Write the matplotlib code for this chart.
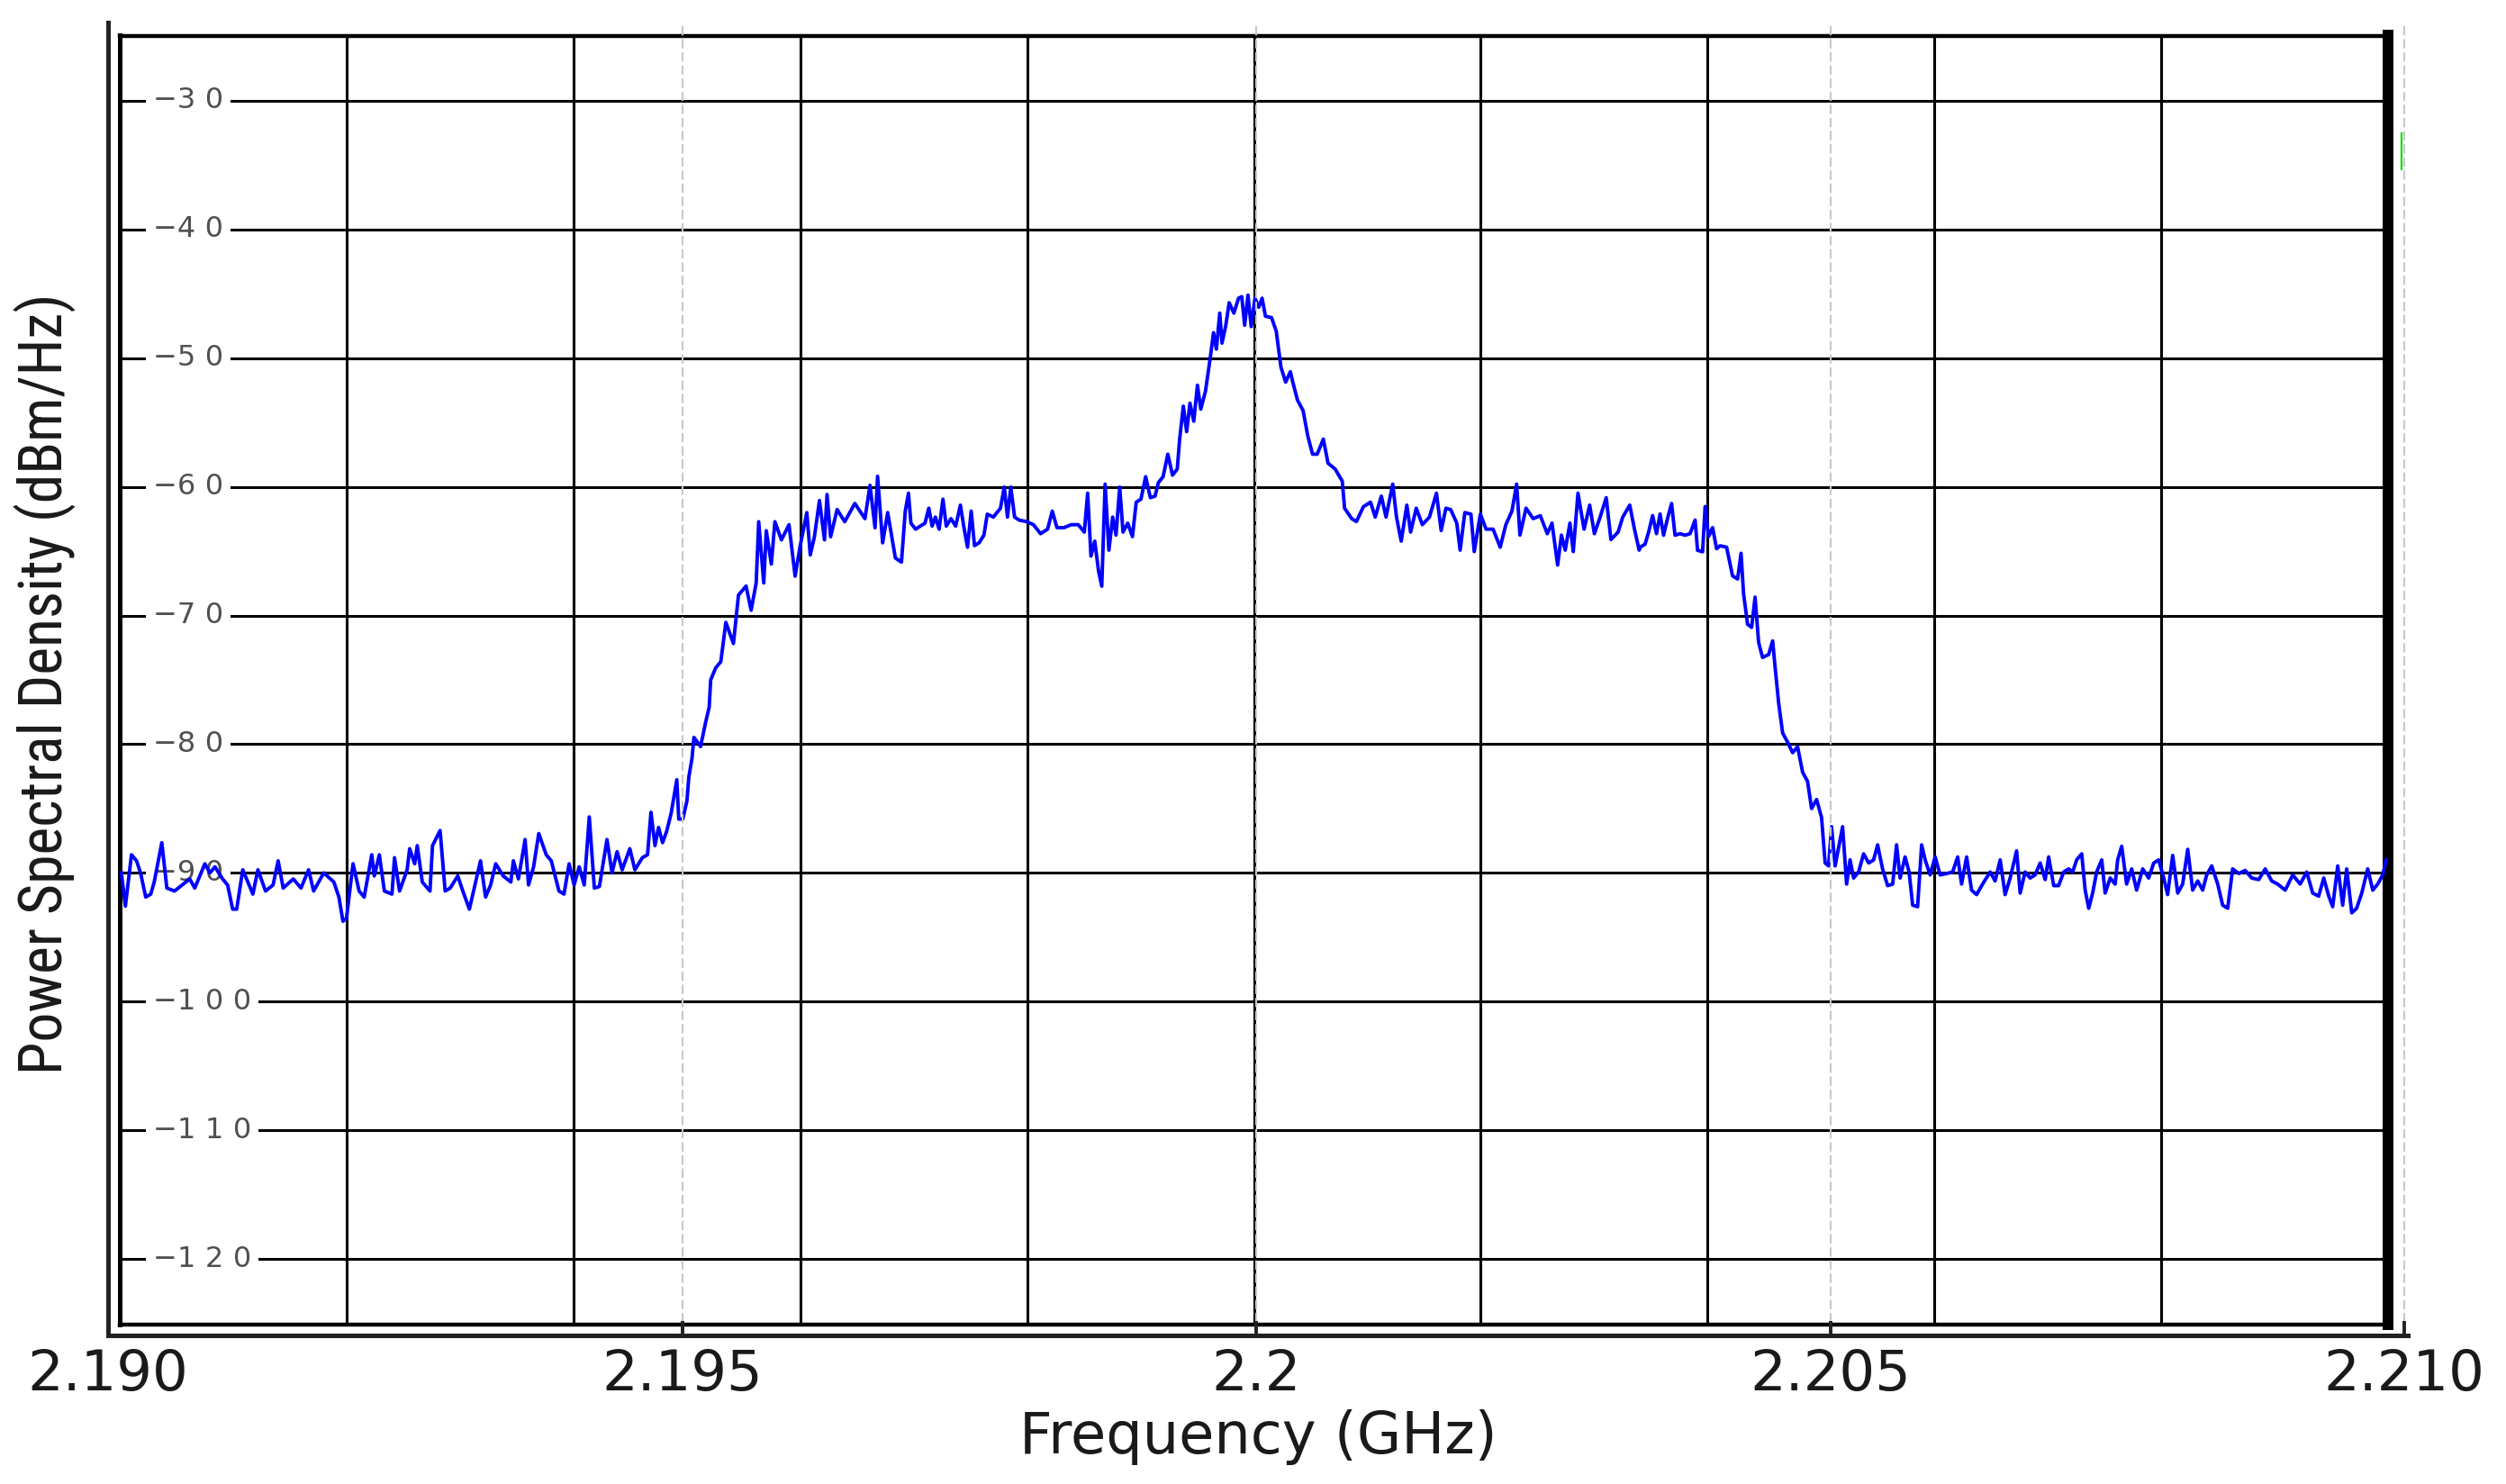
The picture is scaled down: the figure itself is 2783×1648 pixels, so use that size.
import matplotlib.pyplot as plt
from matplotlib import font_manager as fm
import numpy as np

# trace, in three stretches (GHz, dBm/Hz)
freq_low = [
    2.190116, 2.190151, 2.190204, 2.190248, 2.190283, 2.190328, 2.190372, 2.190402, 2.190468, 2.190512,
    2.190579, 2.190645, 2.190711, 2.190755, 2.190799, 2.190843, 2.190887, 2.190931, 2.190997, 2.191041,
    2.191085, 2.191120, 2.191173, 2.191261, 2.191305, 2.191371, 2.191437, 2.191481, 2.191525, 2.191613,
    2.191680, 2.191746, 2.191790, 2.191878, 2.191966, 2.192010, 2.192045, 2.192076, 2.192133, 2.192186,
    2.192230, 2.192296, 2.192318, 2.192362, 2.192406, 2.192472, 2.192494, 2.192538, 2.192604, 2.192626,
    2.192670, 2.192692, 2.192736, 2.192803, 2.192825, 2.192891, 2.192935, 2.192979, 2.193045, 2.193089,
    2.193146, 2.193243, 2.193287, 2.193331, 2.193375, 2.193441, 2.193507, 2.193529, 2.193573, 2.193631,
    2.193661, 2.193705, 2.193750, 2.193815, 2.193859, 2.193926, 2.193970, 2.194014, 2.194058, 2.194102,
    2.194146, 2.194190, 2.194234, 2.194278, 2.194344, 2.194388, 2.194432, 2.194476, 2.194543, 2.194587,
    2.194652, 2.194697, 2.194727, 2.194762, 2.194793, 2.194828, 2.194864, 2.194903, 2.194925, 2.194952,
    2.194969, 2.195004, 2.195040, 2.195057, 2.195084, 2.195101, 2.195159, 2.195203, 2.195234, 2.195247,
    2.195291, 2.195335, 2.195379, 2.195445, 2.195489, 2.195555, 2.195599, 2.195643, 2.195665, 2.195709,
    2.195731, 2.195775, 2.195806, 2.195863, 2.195929, 2.195982, 2.196026, 2.196084, 2.196114, 2.196150,
    2.196194, 2.196238, 2.196260, 2.196291, 2.196348, 2.196414, 2.196502, 2.196590, 2.196634, 2.196678,
    2.196700, 2.196744, 2.196788, 2.196855]
psd_low = [
    -90.0, -92.59, -88.59, -89.06, -90.0, -91.88, -91.65, -90.71, -87.65, -91.18,
    -91.41, -90.94, -90.47, -91.18, -90.24, -89.29, -90.0, -89.53, -90.47, -90.94,
    -92.82, -92.82, -89.76, -91.65, -89.76, -91.41, -90.94, -89.06, -91.18, -90.47,
    -91.18, -89.76, -91.41, -90.0, -90.71, -91.88, -93.76, -93.53, -89.29, -91.41,
    -91.88, -88.59, -90.24, -88.59, -91.41, -91.65, -88.82, -91.41, -89.76, -88.12,
    -89.29, -87.88, -90.71, -91.41, -87.88, -86.71, -91.41, -91.18, -90.24, -91.41,
    -92.82, -89.06, -91.88, -90.94, -89.29, -90.24, -90.71, -89.06, -90.47, -87.41,
    -90.94, -89.53, -86.94, -88.59, -89.06, -91.41, -91.65, -89.29, -90.94, -89.53,
    -90.94, -85.65, -91.18, -91.06, -87.41, -90.0, -88.35, -89.76, -88.12, -89.76,
    -88.82, -88.59, -85.29, -87.88, -86.47, -87.65, -86.76, -85.35, -84.18, -82.76,
    -85.82, -85.82, -84.41, -82.53, -81.12, -79.47, -80.18, -78.29, -77.12, -75.0,
    -74.06, -73.59, -70.53, -72.18, -68.41, -67.71, -69.59, -67.47, -62.71, -67.47,
    -63.41, -66.0, -62.71, -64.12, -62.94, -66.94, -64.59, -62.0, -65.29, -63.88,
    -61.06, -64.12, -60.59, -63.88, -61.76, -62.71, -61.29, -62.47, -59.88, -63.18,
    -59.18, -64.35, -62.0, -65.53]

freq_mid = [
    2.196908, 2.196941, 2.196969, 2.196990, 2.197031, 2.197072, 2.197113, 2.197146, 2.197175, 2.197203,
    2.197236, 2.197269, 2.197298, 2.197339, 2.197380, 2.197421, 2.197450, 2.197483, 2.197515, 2.197544,
    2.197585, 2.197626, 2.197655, 2.197708, 2.197770, 2.197803, 2.197831, 2.197860, 2.197893, 2.197934,
    2.197996, 2.198057, 2.198119, 2.198180, 2.198221, 2.198262, 2.198324, 2.198386, 2.198447, 2.198500,
    2.198529, 2.198558, 2.198591, 2.198624, 2.198652, 2.198681, 2.198714, 2.198747, 2.198776, 2.198808,
    2.198837, 2.198878, 2.198919, 2.198952, 2.198993, 2.199034, 2.199075, 2.199116, 2.199145, 2.199186,
    2.199227, 2.199268, 2.199309, 2.199330, 2.199362, 2.199391, 2.199420, 2.199453, 2.199485, 2.199514,
    2.199555, 2.199596, 2.199625, 2.199650, 2.199679, 2.199699, 2.199732, 2.199761, 2.199802, 2.199843,
    2.199871, 2.199896, 2.199925, 2.199953, 2.199986, 2.200019, 2.200048, 2.200077, 2.200130, 2.200171,
    2.200212, 2.200253, 2.200294, 2.200315, 2.200356, 2.200405, 2.200446, 2.200487, 2.200528, 2.200581,
    2.200622, 2.200684, 2.200746, 2.200766, 2.200828, 2.200869, 2.200930, 2.200992, 2.201033, 2.201086,
    2.201127, 2.201185, 2.201218, 2.201259, 2.201308, 2.201341, 2.201390, 2.201443, 2.201505, 2.201566,
    2.201607, 2.201648, 2.201690, 2.201743, 2.201772, 2.201813, 2.201866, 2.201895, 2.201948, 2.201998,
    2.202059, 2.202121, 2.202170, 2.202223, 2.202264, 2.202293, 2.202346, 2.202408, 2.202470, 2.202531,
    2.202572, 2.202621, 2.202654, 2.202687, 2.202728, 2.202757, 2.202798, 2.202851, 2.202900, 2.202941,
    2.202991, 2.203044, 2.203085, 2.203147, 2.203188, 2.203249, 2.203290, 2.203331]
psd_mid = [
    -65.85, -61.89, -60.49, -62.82, -63.29, -63.05, -62.82, -61.66, -63.05, -62.35,
    -63.29, -60.96, -63.05, -62.47, -63.05, -61.42, -63.05, -64.69, -61.89, -64.57,
    -64.34, -63.75, -62.12, -62.35, -61.66, -60.02, -62.35, -60.02, -62.35, -62.59,
    -62.70, -62.94, -63.64, -63.29, -61.89, -63.17, -63.17, -62.94, -62.94, -63.52,
    -60.49, -65.38, -64.22, -66.55, -67.72, -59.79, -64.92, -62.35, -63.75, -60.02,
    -63.52, -62.82, -63.87, -61.19, -60.96, -59.21, -60.84, -60.72, -59.67, -59.21,
    -57.46, -59.09, -58.62, -56.29, -53.73, -55.71, -53.50, -54.90, -52.10, -53.96,
    -52.56, -50.0, -48.02, -49.30, -46.50, -48.83, -47.44, -45.69, -46.50, -45.34,
    -45.22, -47.44, -45.10, -47.55, -45.34, -46.04, -45.34, -46.74, -46.85, -47.90,
    -50.70, -51.86, -51.05, -51.86, -53.26, -54.08, -56.06, -57.46, -57.46, -56.29,
    -58.16, -58.62, -59.56, -61.66, -62.47, -62.70, -61.54, -61.19, -62.35, -60.72,
    -62.35, -59.79, -62.35, -64.22, -61.42, -63.52, -61.66, -62.94, -62.35, -60.49,
    -63.40, -61.66, -61.77, -62.82, -64.92, -62.00, -62.12, -65.03, -62.12, -63.29,
    -63.29, -64.69, -62.94, -61.89, -59.79, -63.75, -61.66, -62.47, -62.24, -63.64,
    -62.82, -66.08, -63.75, -64.92, -62.82, -65.03, -60.49, -63.29, -61.42, -63.64,
    -62.35, -60.84, -64.10, -63.52, -62.35, -61.42, -63.29, -64.92]

freq_high = [
    2.203339, 2.203382, 2.203413, 2.203448, 2.203482, 2.203513, 2.203543, 2.203578, 2.203613, 2.203643,
    2.203687, 2.203731, 2.203774, 2.203818, 2.203839, 2.203883, 2.203905, 2.203935, 2.203970, 2.204005,
    2.204035, 2.204092, 2.204144, 2.204188, 2.204218, 2.204240, 2.204275, 2.204310, 2.204340, 2.204371,
    2.204405, 2.204458, 2.204493, 2.204514, 2.204545, 2.204580, 2.204623, 2.204667, 2.204710, 2.204754,
    2.204797, 2.204832, 2.204876, 2.204919, 2.204950, 2.204980, 2.205006, 2.205037, 2.205067, 2.205102,
    2.205137, 2.205167, 2.205198, 2.205241, 2.205285, 2.205329, 2.205372, 2.205407, 2.205450, 2.205494,
    2.205538, 2.205572, 2.205603, 2.205646, 2.205681, 2.205712, 2.205755, 2.205790, 2.205821, 2.205864,
    2.205908, 2.205951, 2.206008, 2.206060, 2.206104, 2.206138, 2.206182, 2.206225, 2.206269, 2.206321,
    2.206387, 2.206430, 2.206474, 2.206517, 2.206561, 2.206617, 2.206648, 2.206691, 2.206735, 2.206778,
    2.206822, 2.206866, 2.206896, 2.206940, 2.206983, 2.207027, 2.207070, 2.207105, 2.207140, 2.207184,
    2.207214, 2.207245, 2.207279, 2.207314, 2.207358, 2.207388, 2.207432, 2.207475, 2.207497, 2.207532,
    2.207575, 2.207619, 2.207662, 2.207715, 2.207767, 2.207811, 2.207854, 2.207898, 2.207932, 2.207976,
    2.208020, 2.208063, 2.208107, 2.208150, 2.208194, 2.208237, 2.208272, 2.208316, 2.208368, 2.208411,
    2.208455, 2.208498, 2.208551, 2.208607, 2.208664, 2.208725, 2.208782, 2.208838, 2.208890, 2.208956,
    2.209021, 2.209086, 2.209143, 2.209195, 2.209247, 2.209291, 2.209335, 2.209369, 2.209413, 2.209456,
    2.209491, 2.209535, 2.209578, 2.209622, 2.209674, 2.209718, 2.209761, 2.209805, 2.209835]
psd_high = [
    -64.69, -64.46, -63.52, -62.23, -63.64, -62.11, -63.76, -62.46, -61.29, -63.76,
    -63.64, -63.76, -63.64, -62.58, -64.93, -65.05, -61.53, -63.87, -63.17, -64.81,
    -64.58, -64.69, -66.92, -67.16, -65.16, -68.33, -70.68, -70.92, -68.57, -72.09,
    -73.26, -73.03, -71.97, -73.97, -76.78, -79.13, -79.84, -80.66, -80.19, -82.18,
    -82.89, -85.0, -84.30, -85.70, -89.23, -89.46, -86.41, -89.46, -88.05, -86.41,
    -90.87, -88.99, -90.40, -89.93, -88.52, -89.23, -88.99, -87.82, -89.69, -90.99,
    -90.87, -87.82, -90.40, -88.76, -89.93, -92.51, -92.63, -87.82, -88.99, -90.16,
    -88.76, -90.16, -90.05, -89.93, -88.76, -90.87, -88.76, -91.34, -91.69, -90.87,
    -89.93, -90.63, -88.99, -91.69, -90.40, -88.29, -91.57, -89.93, -90.40, -90.16,
    -89.23, -90.52, -88.76, -90.99, -90.99, -89.93, -89.69, -89.93, -88.99, -88.52,
    -91.34, -92.75, -91.57, -89.93, -88.99, -91.57, -90.40, -90.87, -88.99, -87.93,
    -90.87, -89.69, -91.34, -89.69, -90.40, -89.23, -88.99, -90.40, -91.69, -88.64,
    -91.57, -90.87, -88.17, -91.34, -90.63, -91.34, -90.16, -89.46, -90.87, -92.51,
    -92.75, -89.69, -90.05, -89.81, -90.40, -90.52, -89.69, -90.63, -90.87, -91.34,
    -90.16, -90.87, -89.93, -91.57, -91.81, -90.40, -91.81, -92.63, -89.46, -92.51,
    -89.69, -93.10, -92.75, -91.57, -89.69, -91.34, -90.87, -90.16, -88.99]

freq_ticks = [2.190, 2.195, 2.200, 2.205, 2.210]
freq_labels = ['2.190', '2.195', '2.2', '2.205', '2.210']
level_ticks = [-30, -40, -50, -60, -70, -80, -90, -100, -110, -120]

screen_f = (2.190102, 2.209851)     # span of the analyser screen
screen_db = (-125.07, -24.93)
outer_f = (2.190, 2.210031)
outer_db = (-125.93, -23.91)
marker_f = 2.20998                  # small green marker right of the screen
marker_db = (-32.5, -35.3)

freq = np.array(freq_low + freq_mid + freq_high)
psd = np.array(psd_low + psd_mid + psd_high)

W, H, DPI = 2783, 1648, 200
fig = plt.figure(figsize=(W / DPI, H / DPI), dpi=DPI)


def px_box(l, t, r, b):
    return [l / W, 1 - b / H, (r - l) / W, (b - t) / H]


def narrow_font():
    # the y label is set in a condensed face; use one if the box has it
    for fam, stretch in [('Roboto Condensed', 'normal'), ('Noto Sans', 'condensed'),
                         ('Noto Sans Condensed', 'normal'), ('DejaVu Sans', 'condensed'),
                         ('Open Sans', 'condensed'), ('Liberation Sans Narrow', 'normal')]:
        try:
            path = fm.findfont(fm.FontProperties(family=fam, stretch=stretch),
                               fallback_to_default=False)
        except ValueError:
            continue
        if 'ondensed' in path or 'Narrow' in path:
            return fm.FontProperties(fname=path)
    return fm.FontProperties(family='DejaVu Sans')


# analyser screen
scr = fig.add_axes(px_box(133, 39.5, 2652, 1470.5), zorder=1)
scr.set_xlim(screen_f)
scr.set_ylim(screen_db)
scr.set_xticks(np.linspace(screen_f[0], screen_f[1], 11))
scr.set_yticks(level_ticks)
scr.tick_params(length=0, labelbottom=False, labelleft=False)
scr.set_axisbelow(True)
scr.grid(True, color='black', lw=1.1)
for side, lw in [('left', 1.8), ('top', 1.6), ('bottom', 1.6), ('right', 4.3)]:
    scr.spines[side].set_linewidth(lw)
    scr.spines[side].set_color('black')

for v in level_ticks:
    txt = '\u2212' + '\u2004'.join(str(abs(v)))
    scr.annotate(txt, xy=(0, v), xycoords=('axes fraction', 'data'),
                 xytext=(13.3, 0), textcoords='offset points',
                 ha='left', va='center', fontsize=11.5, color='#505050',
                 bbox=dict(boxstyle='square,pad=0.25', fc='white', ec='none'),
                 zorder=3)

scr.plot(freq, psd, color='#0000ff', lw=1.4, zorder=4)

# outer frame with frequency axis
ax = fig.add_axes(px_box(120, 25, 2674, 1482.7), zorder=2)
ax.patch.set_alpha(0)
ax.set_xlim(outer_f)
ax.set_ylim(outer_db)
ax.set_xticks(freq_ticks, freq_labels)
ax.set_yticks([])
ax.spines['top'].set_visible(False)
ax.spines['right'].set_visible(False)
for side in ['left', 'bottom']:
    ax.spines[side].set_linewidth(1.8)
    ax.spines[side].set_color('#222222')
ax.tick_params(axis='x', direction='in', length=5.8, width=1.4, color='#222222',
               pad=5.0, labelsize=22.5, labelcolor='#1a1a1a')
ax.grid(axis='x', color='#c8c8c8', lw=0.75, ls=(0, (5, 2)))
ax.set_xlabel('Frequency (GHz)', fontsize=23, color='#1a1a1a', labelpad=3)

ylab = ax.set_ylabel('Power Spectral Density (dBm/Hz)', color='#1a1a1a',
                     fontproperties=narrow_font())
ylab.set_fontsize(24)
ax.yaxis.set_label_coords(-0.0137, 0.4965)
# the label runs about 868 px along the left edge
fig.canvas.draw()
ylab.set_fontsize(24 * 868 / ylab.get_window_extent().height)

ax.plot([marker_f, marker_f], marker_db, color='#00e000', lw=0.8, clip_on=False)

fig.savefig('out.png', dpi=DPI)
